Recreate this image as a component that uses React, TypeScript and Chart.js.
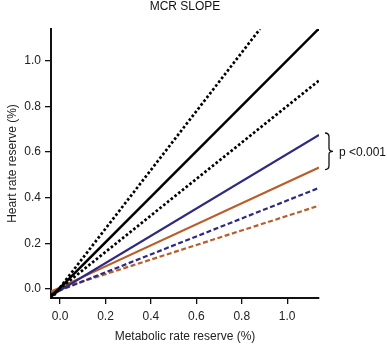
import React, { useEffect, useRef } from "react";
import { Chart, registerables } from "chart.js";

Chart.register(...registerables);

const TITLE = "MCR SLOPE";
const X_TITLE = "Metabolic rate reserve (%)";
const Y_TITLE = "Heart rate reserve (%)";
const P_LABEL = "p <0.001";

const X_TICKS = [0.0, 0.2, 0.4, 0.6, 0.8, 1.0];
const Y_TICKS = [0.0, 0.2, 0.4, 0.6, 0.8, 1.0];

// each line: [x start, x end], [y start, y end]
const blackUpperX = [-0.04, 0.88];
const blackUpperY = [-0.045, 1.14];
const blackSolidX = [-0.04, 1.14];
const blackSolidY = [-0.035, 1.142];
const blackLowerX = [-0.04, 1.14];
const blackLowerY = [-0.03, 0.914];
const blueSolidX = [-0.04, 1.14];
const blueSolidY = [-0.03, 0.675];
const orangeSolidX = [-0.04, 1.14];
const orangeSolidY = [-0.012, 0.532];
const blueDashedX = [-0.04, 1.14];
const blueDashedY = [-0.022, 0.443];
const orangeDashedX = [-0.04, 1.14];
const orangeDashedY = [-0.012, 0.365];

const BLACK = "#000000";
const BLUE = "#2d2a7f";
const ORANGE = "#b85e2a";
const FONT = "'Liberation Sans', Arial, sans-serif";

const pts = (xs: number[], ys: number[]) => xs.map((x, i) => ({ x, y: ys[i] }));

export default function App() {
  const ref = useRef<HTMLCanvasElement | null>(null);
  useEffect(() => {
    document.body.style.margin = "0";
    const canvas = ref.current!;
    const line = (xs: number[], ys: number[], color: string, dash: number[], w: number) => ({
      data: pts(xs, ys),
      borderColor: color,
      borderWidth: w,
      borderDash: dash,
      pointRadius: 0,
      fill: false,
      tension: 0,
      borderCapStyle: "butt" as const,
    });
    const dots = [2.6, 2.2];
    const dashes = [5, 2.6];
    const decor = {
      id: "decor",
      afterDraw(chart: any) {
        const ctx = chart.ctx;
        const ca = chart.chartArea;
        const ys = chart.scales.y;
        ctx.save();
        ctx.fillStyle = "#111";
        ctx.font = `12px ${FONT}`;
        ctx.textAlign = "center";
        ctx.textBaseline = "middle";
        ctx.fillText(TITLE, (ca.left + ca.right) / 2, 7);
        // brace
        const top = ys.getPixelForValue(blueSolidY[1]) - 2;
        const bot = ys.getPixelForValue(orangeSolidY[1]) + 2;
        const mid = (top + bot) / 2;
        const x0 = ca.right + 6;
        const w = 4;
        ctx.strokeStyle = "#111";
        ctx.lineWidth = 1.3;
        ctx.beginPath();
        ctx.moveTo(x0, top);
        ctx.quadraticCurveTo(x0 + w, top, x0 + w, top + 4);
        ctx.lineTo(x0 + w, mid - 3);
        ctx.quadraticCurveTo(x0 + w, mid, x0 + w + 4, mid);
        ctx.quadraticCurveTo(x0 + w, mid, x0 + w, mid + 3);
        ctx.lineTo(x0 + w, bot - 4);
        ctx.quadraticCurveTo(x0 + w, bot, x0, bot);
        ctx.stroke();
        ctx.textAlign = "left";
        ctx.fillText(P_LABEL, x0 + w + 10, mid + 1);
        ctx.restore();
      },
    };
    const axisCommon = {
      type: "linear" as const,
      min: -0.04,
      max: 1.14,
      grid: {
        display: true,
        drawOnChartArea: false,
        drawTicks: true,
        tickLength: 6,
        color: "#111",
        lineWidth: 1.3,
      },
      border: { display: true, color: "#111", width: 2 },
    };
    const chart = new Chart(canvas, {
      type: "line",
      data: {
        datasets: [
          line(blackUpperX, blackUpperY, BLACK, dots, 2.7),
          line(blackSolidX, blackSolidY, BLACK, [], 2.5),
          line(blackLowerX, blackLowerY, BLACK, dots, 2.7),
          line(blueSolidX, blueSolidY, BLUE, [], 2.2),
          line(orangeSolidX, orangeSolidY, ORANGE, [], 2.2),
          line(blueDashedX, blueDashedY, BLUE, dashes, 2.2),
          line(orangeDashedX, orangeDashedY, ORANGE, dashes, 2.2),
        ],
      },
      options: {
        animation: false,
        responsive: false,
        layout: { padding: { left: 0, top: 29, right: 387 - 319, bottom: 0 } },
        plugins: { legend: { display: false }, tooltip: { enabled: false } },
        scales: {
          x: {
            ...axisCommon,
            afterFit: (s: any) => {
              s.height = 46;
            },
            afterBuildTicks: (s: any) => {
              s.ticks = X_TICKS.map((v) => ({ value: v }));
            },
            ticks: {
              color: "#222",
              font: { family: FONT, size: 12 },
              padding: 5,
              maxRotation: 0,
              callback: (v: any) => Number(v).toFixed(1),
            },
            title: {
              display: true,
              text: X_TITLE,
              color: "#222",
              font: { family: FONT, size: 12 },
              padding: { top: 0, bottom: 0 },
            },
          },
          y: {
            ...axisCommon,
            afterFit: (s: any) => {
              s.width = 51;
            },
            afterBuildTicks: (s: any) => {
              s.ticks = Y_TICKS.map((v) => ({ value: v }));
            },
            ticks: {
              color: "#222",
              font: { family: FONT, size: 12 },
              padding: 4,
              callback: (v: any) => Number(v).toFixed(1),
            },
            title: {
              display: true,
              text: Y_TITLE,
              color: "#222",
              font: { family: FONT, size: 12 },
              padding: { top: 5, bottom: 0 },
            },
          },
        },
      },
      plugins: [decor],
    });
    return () => chart.destroy();
  }, []);
  return (
    <div style={{ position: "absolute", left: 0, top: 0, width: 387, height: 344, background: "#fff" }}>
      <canvas ref={ref} width={387} height={344} style={{ display: "block", width: 387, height: 344 }} />
    </div>
  );
}
